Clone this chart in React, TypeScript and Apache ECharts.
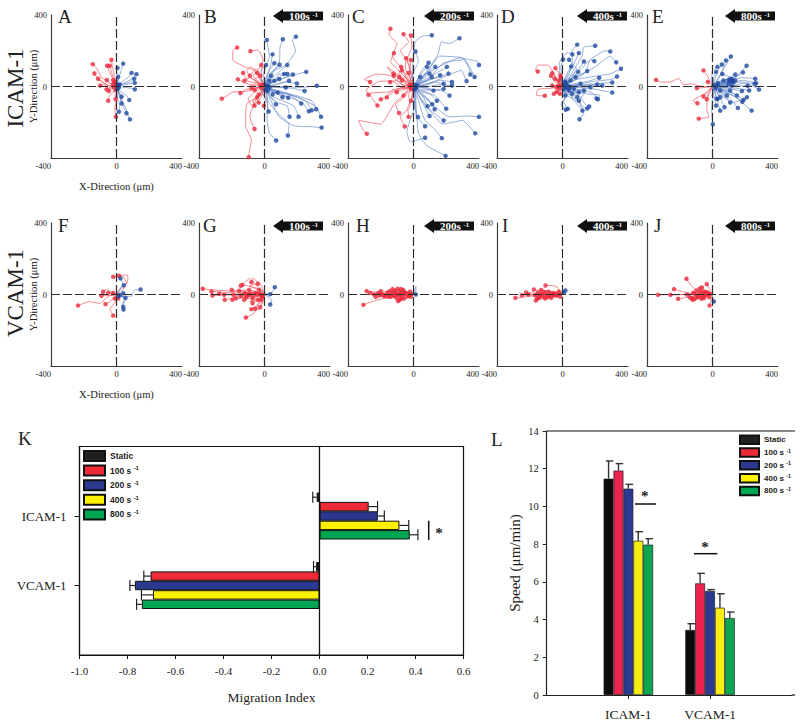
import React, { useEffect, useRef } from "react";
import * as echarts from "echarts";

// ---------- Cell tracks: each track is x,y,x,y,... (µm) from the origin, the last pair being the end point ----------
const redA = [
  [-40,20,-90,50,-120,100,-145,125],[-60,10,-110,40,-135,73],[-50,5,-85,25,-112,43],[-45,-10,-75,10,-100,5],[-30,10,-59,36],
  [-20,40,-45,85,-57,116],[-15,35,-30,80,-41,116],[-10,50,-25,110,-31,150],[-30,-5,-61,-16],[-25,-10,-47,-25],
  [-20,-30,-45,-55,-51,-80],[5,-60,-10,-120,-4,-170],[-10,-30,-6,-71],[-10,15,-20,36],
  [-8,12],[-15,-6],[-5,-18],[-20,14],[-12,25],
];
const blueA = [
  [10,40,0,80,6,104],[15,50,30,95,41,128],[40,30,70,50,92,76],[50,20,90,40,122,69],[45,15,85,25,108,43],[50,10,112,20],
  [50,-5,90,-10,112,-16],[30,-30,60,-50,78,-76],[15,-40,31,-95],[5,-60,20,-110,14,-141],[25,-60,60,-130,70,-160,82,-184],
  [25,-70,45,-120,61,-150],[15,-25,31,-57],[5,25,10,54],
  [8,10],[14,-6],[5,-14],[20,12],
];
const redB = [
  [-30,40,-60,90,-120,110,-195,150,-190,205,-167,218],[-20,60,-10,150,-40,205,-86,198],[-50,20,-100,30,-131,76],[-60,5,-120,20,-163,40],
  [-50,30,-90,50,-122,32],[-70,-10,-110,-15,-147,-36],[-60,-15,-130,-30,-190,-30,-235,-55,-261,-68],[-40,-5,-80,-10],
  [-10,-40,-40,-60,-70,-80,-61,-108],[-20,-30,10,-70,-4,-108],[-20,-60,-70,-110,-90,-170,-61,-238],
  [-30,-50,-110,-100,-115,-220,-80,-300,-92,-360,-96,-395],[-40,30,-70,60,-40,90,-20,120],[-70,40,-110,90,-80,110,-45,75],
  [-60,-30,-100,-70,-75,-110,-45,-60],[-30,50,-50,100,-90,60],[-25,-25,-50,-70,-35,-90],[-50,15,-85,5,-60,-20],
  [-30,10,-60,40,-25,60],[-15,-30,-35,-45],[-10,10],[-18,-8],[-25,6],
];
const blueB = [
  [-5,70,30,170,20,225,14,260],[30,60,90,130,95,220,112,264],[40,80,130,120,190,200,170,260,192,279],[10,50,35,110,49,180],
  [30,40,60,90,92,122],[50,50,100,90,139,120],[70,30,160,60,255,82],[50,30,110,45,173,67],[60,10,130,25,198,17],
  [80,-5,170,-10,245,-25],[100,0,220,-5,320,4],[50,-30,100,-40,145,-63],[60,-30,140,-40,190,-70,224,-95],
  [50,-30,150,-60,230,-90,271,-139],[60,-20,170,-50,250,-80,288,-133],[70,-20,190,-50,290,-80,316,-127],
  [80,-30,200,-60,310,-110,345,-169],[40,-80,90,-170,180,-220,290,-225,349,-230],[40,-50,110,-80,180,-110,208,-169],
  [30,-50,80,-90,140,-110,153,-169],[20,-80,80,-150,150,-210,143,-274],[20,-70,15,-180,30,-260,71,-302],
  [40,20,90,42],[30,15,60,32],[15,15,30,32],[40,-15,80,-34],[10,-12,20,-25],[60,-3,130,-6],[70,10,150,32],[60,30,120,70],
  [15,30,40,60],[25,-20,50,-44],[50,-25,110,-60],[30,-50,70,-100],[10,40,30,90,60,130],[-15,30,-30,80,10,120],
  [-20,-30,10,-70,25,-140],[60,30,90,70,140,70],[8,8],[14,-8],[22,4],[6,-18],[30,-4],
];
const redC = [
  [-30,40,-70,100,-130,170,-100,240,-150,290,-141,323],[-20,50,-30,130,-80,200,-30,250,-61,293],[-5,60,-40,150,-10,220,-16,285],
  [-40,40,-90,90,-140,140,-120,186],[-15,40,-50,100,-45,158],[-5,40,-20,90,-16,148],[-30,20,-50,60,-71,91],[-15,25,-31,76],
  [-40,10,-60,40,-86,53],[-70,10,-140,60,-220,70,-300,40,-265,25],[-60,-10,-130,30,-200,30,-290,-20,-275,-46],
  [-60,-5,-130,-20,-170,-60,-200,-72],[-70,-10,-150,-30,-270,-40,-220,-106],[-30,-30,-70,-70,-110,-100,-88,-148],
  [-30,-50,-20,-110,-80,-170,-53,-224],[-40,-30,-120,-100,-200,-210,-335,-190,-310,-240,-285,-264],[-5,-30,-14,-80],
  [-40,25,-90,50,-122,72],[-60,5,-100,35,-143,25],[-50,-10,-80,-5,-102,-32],[-30,-10,-45,-30,-61,-51],
  [-70,-20,-120,-30,-163,-61],[-35,5,-71,34],[-50,50,-100,40,-75,110],[-10,-60,-35,-120,-30,-170],[-60,40,-160,110,-120,60],
  [-10,8],[-18,-6],[-25,10],[-14,-14],
];
const blueC = [
  [-10,60,30,140,12,196],[-5,100,10,250,50,280,112,287],[60,60,150,180,170,250,220,240,281,270],[25,40,50,90,92,133],
  [50,30,130,70,204,110],[60,30,150,50,214,72],[70,60,160,170,300,160,340,100,347,67],[80,30,180,130,310,150,373,53],
  [90,10,200,60,290,90,324,30],[70,10,160,35,235,25],[70,-5,150,10,235,6],[60,10,120,25,184,15],[70,-5,130,-20,184,-13],
  [60,-20,140,-20,190,-30,220,-51],[50,-30,130,-50,170,-90,200,-124],[40,-20,100,-40,143,-80],[30,-30,70,-60,114,-99],
  [40,-30,90,-70,129,-127],[30,-30,60,-60,86,-110],[10,-40,5,-110,27,-171],[30,-50,60,-100,98,-165],[40,-60,100,-130,184,-190],
  [15,-60,10,-150,71,-222],[60,-90,180,-210,300,-190,377,-262],[30,-80,70,-190,130,-240,173,-289],
  [5,-110,-40,-250,-20,-310,71,-287],[15,-100,30,-260,80,-330,196,-388],[30,20,60,45,98,72],[40,30,80,80,133,110],
  [50,20,110,40,163,63],[30,15,70,30,112,53],[20,30,45,70,82,110],[15,15,41,53],[40,-5,80,-15,122,-23],
  [80,-70,220,-170,330,-165,400,-170],[60,60,280,160,390,140,400,120],[8,8],[15,-8],[24,5],[6,-16],
];
const redD = [
  [-30,20,-50,70,-90,120,-150,120,-165,90,-151,84],[-20,30,-40,50,-63,75],[-15,40,-25,80,-43,103],[-40,-5,-70,-10,-150,-15,-160,-50,-108,-52],
  [-20,-15,-30,-30,-53,-41],[-5,-20,-16,-41],[-20,15,-30,30,-47,43],[-10,15,-22,34],[-20,0,-37,-4],[-30,5,-63,6],[-5,30,-12,62],
  [-30,15,-50,30,-70,60],[-15,-25,-35,-30],[-25,25,-10,50],[-12,6],[-20,-10],[-28,3],
];
const blueD = [
  [20,60,60,130,60,200,90,234],[40,50,120,170,130,220,200,228],[20,50,60,110,100,187],[60,50,170,150,260,200,292,196],
  [-5,50,-10,110,4,151],[40,50,90,90,131,140],[60,50,140,80,170,150,194,142],[80,50,200,110,290,170,328,135],
  [90,40,220,60,290,70,357,99],[20,35,40,70,53,112],[30,20,70,50,96,82],[50,25,100,50,151,86],[70,15,160,30,224,49],
  [80,10,200,30,300,40,333,56],[80,5,190,15,304,22],[70,0,160,10,243,6],[60,5,130,2,212,11],[80,-5,200,-15,304,-34],
  [60,-15,150,-25,190,-40,208,-67],[50,-25,140,-40,230,-50,216,-71],[50,-30,100,-50,140,-100,163,-112],
  [30,-40,90,-70,120,-110,151,-123],[40,-40,80,-90,122,-135],[30,-50,100,-90,130,-150,104,-183],[10,-40,10,-90,33,-125],
  [30,-20,60,-40,90,-60],[20,-10,39,-22],[30,-5,69,-13],[25,15,49,34],[50,5,110,15],[60,-10,131,-22],[5,-25,18,-50],[40,25,80,52],
  [80,-2,171,-4],[25,-20,59,-41],[50,-15,100,-32],[-15,60,-20,130,30,190,60,180],[25,-50,-10,-100,20,-130],
  [40,30,85,100,40,150],[50,-30,140,-30,100,-80],[10,10],[18,-6],[28,6],[8,-16],[36,-8],[22,20],[45,-2],[15,28],
];
const redE = [
  [-60,0,-130,15,-180,10,-205,45,-260,25,-320,25,-345,37],[-15,30,-30,60,-55,90],[-15,10,-29,26],[-40,-5,-96,-9],[-25,-25,-55,-56],
  [-15,-30,-35,-71],[-40,-35,-120,-80,-92,-94],[-30,-50,-35,-130,-20,-170,-84,-180],
];
const blueE = [
  [30,40,70,100,112,168],[30,30,60,90,82,146],[15,40,30,85,57,123],[60,30,150,60,208,116],[60,20,130,45,186,79],[50,20,100,50,139,67],
  [5,30,10,60,22,82],[80,25,180,50,261,43],[80,15,190,35,267,19],[80,10,170,25,257,15],[70,5,150,2,214,4],[80,-5,200,20,284,-17],
  [70,-5,150,-10,224,-22],[60,-5,120,-15,180,-26],[50,15,90,25,124,34],[50,5,118,6],[60,-20,130,-40,190,-75],[50,-20,130,-50,182,-86],
  [60,-25,140,-60,239,-135],[40,-30,100,-60,155,-120],[40,-25,80,-60,108,-90],[25,-30,50,-70,73,-116],[15,-30,30,-80,47,-135],
  [5,-40,22,-107],[0,-60,-5,-140,2,-211],[40,-15,88,-50],[20,-25,47,-60],[60,-15,110,-30,149,-50],[30,15,67,34],[20,-10,47,-22],
  [50,-10,108,-22],[10,-30,27,-69],[60,15,139,34],[40,5,98,15],[-5,30,0,90,30,110],[15,20,110,50,60,70],[25,-20,-5,-50,30,-70],
  [30,10,150,0,110,40],[40,-40,130,-90,210,-60],[10,8],[18,-8],[28,4],[112,30],[128,24],[118,42],[100,36],[34,18],
];
const redF = [
  [-50,-10,-100,-50,-170,-40,-235,-62],[-20,-20,-40,-40,-67,-54],[-5,-40,-40,-80,-20,-118],[-30,-5,-92,-7],[-30,10,-60,30,-82,15],
  [20,30,60,60,40,100,-20,99],[-25,5,-51,9],[-10,5,-20,9],[-5,-10,-10,-22],[5,-10,10,-22],[40,30,70,80,65,110,15,105],
];
const blueF = [
  [20,30,40,60,24,90],[15,20,45,52],[40,-10,90,-10,110,25,147,28],[20,4,41,7],[30,-10,55,-19],[50,-20,40,-50,41,-69],[60,-25,35,-60,43,-84],[20,-4],[10,-10],
];
const redG = [
  [-100,10,-220,20,-310,25,-377,32],[-90,5,-210,10,-324,17],[-90,-5,-210,0,-318,-6],[-80,5,-190,0,-277,4],[-70,-10,-170,-15,-243,-30],
  [-80,-3,-247,-2],[-60,10,-140,15,-200,26],[-50,15,-110,25,-155,21],[-50,30,-110,50,-145,49],[-50,50,-90,90,-135,54],[-20,50,-70,90,-80,69],
  [-60,2,-190,-2],[-50,-10,-175,-21],[-40,-10,-80,-20,-124,-30],[-30,-5,-73,-21],[-25,5,-53,7],[-50,15,-94,26],[-15,10,-33,26],
  [-30,-40,-70,-110,-114,-129],[-20,-40,-60,-70,-80,-82],[-15,-50,-35,-85,-57,-80],[-5,-30,-27,-71],[-10,-15,-22,-30],[-50,0,-104,-2],
  [-70,-4,-145,-7],[-30,-25,-73,-49],[-6,-4,-12,-11],[-90,-10,-196,-30],[-20,25,-90,50,-40,60],[-30,-15,-90,-40,-40,-30],
  [-60,12,-120,8],[-40,8,-86,4],[-55,-8,-110,-14],[-18,-6],[-30,3],
];
const blueG = [[25,-10,50,15,63,41],[15,5,35,2],[15,-10,45,-30,35,-56]];
const redH = [
  [-100,-10,-220,-30,-306,-58],[-150,5,-286,19],[-120,3,-265,8],[-100,-5,-231,-13],[-90,10,-200,19],[-110,-3,-210,-4],[-80,-4,-169,-8],
  [-70,10,-145,19],[-70,-6,-139,-13],[-50,3,-108,6],[-40,15,-96,32],[-30,12,-63,25],[-40,-15,-94,-36],[-35,-12,-78,-26],[-25,-12,-57,-23],
  [-20,3,-47,6],[-10,8,-22,15],[-60,-4,-118,-8],[-90,0,-190,0],[-120,0,-241,0],[-40,0,-88,0],[-8,-6,-16,-13],[-80,5,-159,11],[-60,15,-128,30],
  [-180,-8],[-215,8],[-152,-12],[-125,12],[-105,-18],[-80,14],[-72,-10],[-55,12],[-36,-10],[-30,-2],[-85,-28],[-110,22],[-75,30],[-12,4],[-24,-6],
];
const blueH = [[8,25,15,46,14,0]];
const redI = [
  [-140,-5,-288,-19],[-120,-2,-249,-4],[-110,5,-222,11],[-90,15,-175,28],[-30,40,-60,50,-104,50],[-80,-15,-163,-34],[-70,-10,-147,-19],
  [-50,-10,-106,-22],[-35,-10,-69,-19],[-20,-2,-45,-4],[-60,3,-126,6],[-80,-2,-167,-4],[-40,8,-86,15],[-10,8,-24,15],[-30,3,-65,6],
  [-7,-6,-14,-13],[-100,0,-208,0],[-70,-5,-137,-13],[-60,15,-130,25],[-155,-22],[-150,10],[-118,-10],[-95,-16],[-78,-8],[-110,14],[-52,8],[-34,-6],[-20,6],[-140,-10],
];
const blueI = [[8,12,18,22],[4,6,8,11]];
const redJ = [
  [-160,0,-333,-2],[-130,0,-257,-2],[-110,5,-160,10,-235,30],[-100,-8,-210,-24],[-90,20,-130,50,-159,88],[-15,25,-35,58],[-40,15,-78,32],
  [-8,-30,-18,-62],[-80,0,-155,0],[-60,5,-118,9],[-55,-10,-108,-24],[-45,-8,-88,-15],[-35,-12,-67,-24],[-25,0,-47,-2],[-50,10,-98,22],
  [-70,-8,-139,-15],[-12,2,-27,4],[-30,8,-57,17],[-10,-6,-20,-15],[-60,-15,-120,-30],[-40,20,-65,40],[-92,-8],[-78,10],[-62,-14],[-44,6],[-110,4],[-128,-22],[-35,14],[-18,5],[-52,-20],
];
const blueJ = [[4,-20,8,-39]];

const panelLetters = ["A", "B", "C", "D", "E", "F", "G", "H", "I", "J"];
const redTracks = [redA, redB, redC, redD, redE, redF, redG, redH, redI, redJ];
const blueTracks = [blueA, blueB, blueC, blueD, blueE, blueF, blueG, blueH, blueI, blueJ];
const shearLabels = ["", "100s", "200s", "400s", "800s", "", "100s", "200s", "400s", "800s"];

// ---------- Panels K and L ----------
const groupNames = ["ICAM-1", "VCAM-1"];
const seriesNames = ["Static", "100 s-1", "200 s-1", "400 s-1", "800 s-1"];
const indexIcam = [-0.012, 0.205, 0.243, 0.333, 0.376];
const indexVcam = [-0.014, -0.704, -0.769, -0.694, -0.74];
const indexIcamTop = [-0.028, 0.242, 0.27, 0.372, 0.41];
const indexVcamTop = [-0.025, -0.732, -0.79, -0.742, -0.762];
const speedIcam = [11.47, 11.9, 10.94, 8.18, 7.97];
const speedVcam = [3.45, 5.92, 5.52, 4.63, 4.08];
const speedIcamTop = [12.41, 12.27, 11.17, 8.66, 8.29];
const speedVcamTop = [3.78, 6.45, 5.59, 5.37, 4.4];
const colorsK = ["#231f20", "#ee2a38", "#2b3990", "#fff200", "#00a651"];
const colorsL = ["#0c0a0b", "#ec2350", "#2b3990", "#f7ec13", "#0ca650"];

const SERIF = "'Liberation Serif', serif";
const SANS = "'Liberation Sans', sans-serif";

const cols = [
  { left: 51, arrow: 0 }, { left: 199, arrow: 273 }, { left: 348, arrow: 424 }, { left: 497, arrow: 577 }, { left: 647, arrow: 725 },
];
const letterX = [58, 204, 352, 501, 652, 58, 203, 356, 502, 654];

function trackLine(tracks: number[][]) {
  const out: any[] = [];
  tracks.forEach((t) => {
    out.push([0, 0]);
    for (let i = 0; i < t.length; i += 2) out.push([t[i], t[i + 1]]);
    out.push(["-", "-"]);
  });
  return out;
}
const trackEnds = (tracks: number[][]) => tracks.map((t) => [t[t.length - 2], t[t.length - 1]]);

function legendFormatter(name: string) {
  const m = name.match(/^(\d+ s)(-1)$/);
  return m ? `{a|${m[1]} }{b|${m[2]}}` : `{a|${name}}`;
}

function errorSeries(
  name: string, xAxisIndex: number, yAxisIndex: number, horizontal: boolean, barPx: number, capPx: number,
  rows: number[][], color: string,
) {
  return {
    type: "custom", name, xAxisIndex, yAxisIndex, silent: true, z: 3,
    encode: horizontal ? { x: [0, 1], y: 2 } : { x: 2, y: [0, 1] },
    data: rows,
    renderItem: (_: any, api: any) => {
      const from = api.value(0), to = api.value(1), cat = api.value(2), k = api.value(3);
      const off = (k - 2) * barPx;
      const a = horizontal ? api.coord([from, cat]) : api.coord([cat, from]);
      const b = horizontal ? api.coord([to, cat]) : api.coord([cat, to]);
      const st = { stroke: color, lineWidth: 1.1, fill: "none" };
      if (horizontal) {
        return {
          type: "group",
          children: [
            { type: "line", shape: { x1: a[0], y1: a[1] + off, x2: b[0], y2: b[1] + off }, style: st },
            { type: "line", shape: { x1: b[0], y1: b[1] + off - capPx / 2, x2: b[0], y2: b[1] + off + capPx / 2 }, style: st },
          ],
        };
      }
      return {
        type: "group",
        children: [
          { type: "line", shape: { x1: a[0] + off, y1: a[1], x2: b[0] + off, y2: b[1] }, style: { ...st, lineWidth: 1.4 } },
          { type: "line", shape: { x1: b[0] + off - capPx / 2 + 1, y1: b[1], x2: b[0] + off + capPx / 2 + 1, y2: b[1] }, style: { ...st, lineWidth: 1.4 } },
        ],
      };
    },
  };
}

function buildOption() {
  const grid: any[] = [], xAxis: any[] = [], yAxis: any[] = [], series: any[] = [], graphic: any[] = [];
  const axisLine = { show: true, onZero: false, lineStyle: { color: "#3c3c3c", width: 1.2 } };

  panelLetters.forEach((letter, i) => {
    const row = i < 5 ? 0 : 1;
    const col = cols[i % 5];
    const top = row === 0 ? 15 : 223;
    const width = 131, height = 143;
    const withNames = i % 5 === 0;
    grid.push({ left: col.left, top, width, height, containLabel: false });
    xAxis.push({
      gridIndex: i, type: "value", min: -400, max: 400, interval: 400,
      axisLine, axisTick: { show: false }, splitLine: { show: false },
      axisLabel: {
        fontFamily: SERIF, fontSize: 8.5, color: "#222", margin: 3, alignMinLabel: "right", alignMaxLabel: "right",
      },
      name: withNames ? "X-Direction (μm)" : "", nameLocation: "middle", nameGap: 23, nameMoveOverlap: false,
      nameTextStyle: { fontFamily: SERIF, fontSize: 10.6, color: "#222" },
    });
    yAxis.push({
      gridIndex: i, type: "value", min: -400, max: 400, interval: 400,
      axisLine, axisTick: { show: false }, splitLine: { show: false },
      axisLabel: {
        fontFamily: SERIF, fontSize: 8.5, color: "#222", margin: 4,
        formatter: (v: number) => (v === -400 ? "" : String(v)),
      },
      name: withNames ? "Y-Direction (μm)" : "", nameLocation: "middle", nameGap: 12, nameMoveOverlap: false,
      nameTextStyle: { fontFamily: SERIF, fontSize: 10.6, color: "#222" },
    });
    series.push({
      type: "line", name: letter + " red tracks", xAxisIndex: i, yAxisIndex: i, data: trackLine(redTracks[i]),
      symbol: "none", smooth: 0.15, connectNulls: false, silent: true,
      lineStyle: { color: "#ef5560", width: 0.7 },
      markLine: {
        silent: true, symbol: "none", label: { show: false }, z: 6,
        lineStyle: { color: "#2e2e2e", width: 1.2, type: [9, 3] },
        data: [{ xAxis: 0 }, { yAxis: 0 }],
      },
    });
    series.push({
      type: "line", name: letter + " blue tracks", xAxisIndex: i, yAxisIndex: i, data: trackLine(blueTracks[i]),
      symbol: "none", smooth: 0.15, connectNulls: false, silent: true,
      lineStyle: { color: "#6a8dcc", width: 0.7 },
    });
    series.push({
      type: "scatter", name: letter + " red ends", xAxisIndex: i, yAxisIndex: i, data: trackEnds(redTracks[i]),
      symbolSize: 4.5, itemStyle: { color: "#ea2a3c" }, silent: true, z: 4,
    });
    series.push({
      type: "scatter", name: letter + " blue ends", xAxisIndex: i, yAxisIndex: i, data: trackEnds(blueTracks[i]),
      symbolSize: 4.5, itemStyle: { color: "#1f4aa0" }, silent: true, z: 4,
    });

    graphic.push({
      type: "text", x: letterX[i], y: row === 0 ? 16 : 225,
      style: { text: letter, font: `19px ${SERIF}`, fill: "#222", verticalAlign: "middle" },
    });
    if (shearLabels[i]) {
      const ax = col.arrow;
      const ay = row === 0 ? 16 : 226;
      graphic.push({
        type: "polygon", silent: true,
        shape: { points: [[ax, ay], [ax + 10, ay - 7], [ax + 10, ay - 4.5], [ax + 50, ay - 4.5], [ax + 50, ay + 4.5], [ax + 10, ay + 4.5], [ax + 10, ay + 7]] },
        style: { fill: "#111" },
      });
      graphic.push({
        type: "text", x: ax + 16, y: ay, z: 10,
        style: { text: shearLabels[i], font: `bold 11px ${SERIF}`, fill: "#fff", verticalAlign: "middle" },
      });
      graphic.push({
        type: "text", x: ax + 39.5, y: ay - 2, z: 10,
        style: { text: "-1", font: `bold 6.5px ${SERIF}`, fill: "#fff", verticalAlign: "middle" },
      });
    }
  });

  // Panel K
  const K = 10, L = 11;
  grid.push({ left: 79.5, top: 446.5, width: 384, height: 208.5, show: true, borderColor: "#111", borderWidth: 1.2, backgroundColor: "transparent" });
  xAxis.push({
    gridIndex: K, type: "value", min: -1, max: 0.6, interval: 0.2,
    axisLine: { show: true, onZero: false, lineStyle: { color: "#111", width: 1.2 } },
    axisTick: { show: true, length: 4, lineStyle: { color: "#111" } }, splitLine: { show: false },
    axisLabel: { fontFamily: SERIF, fontSize: 11, color: "#222", margin: 10, formatter: (v: number) => v.toFixed(1) },
    name: "Migration Index", nameLocation: "middle", nameGap: 35, nameMoveOverlap: false,
    nameTextStyle: { fontFamily: SERIF, fontSize: 13.5, color: "#222" },
  });
  yAxis.push({
    gridIndex: K, type: "category", inverse: true, boundaryGap: false, data: ["", ...groupNames, ""],
    axisLine: { show: true, onZero: false, lineStyle: { color: "#111", width: 1.2 } },
    axisTick: { show: true, length: 5, interval: (_: number, v: string) => v !== "", lineStyle: { color: "#111" } },
    axisLabel: { fontFamily: SERIF, fontSize: 13, color: "#222", margin: 13, interval: 0 },
  });

  // Panel L
  grid.push({ left: 546.7, top: 431, width: 245, height: 264 });
  xAxis.push({
    gridIndex: L, type: "category", boundaryGap: false, data: ["", ...groupNames, ""],
    axisLine: { show: true, onZero: false, lineStyle: { color: "#222", width: 1.2 } },
    axisTick: { show: true, length: 4, interval: (_: number, v: string) => v !== "", lineStyle: { color: "#222" } },
    axisLabel: { fontFamily: SERIF, fontSize: 13.5, color: "#222", margin: 12, interval: 0 },
  });
  yAxis.push({
    gridIndex: L, type: "value", min: 0, max: 14, interval: 2,
    axisLine: { show: true, onZero: false, lineStyle: { color: "#222", width: 1.2 } },
    axisTick: { show: true, length: 4, lineStyle: { color: "#222" } }, splitLine: { show: false },
    axisLabel: { fontFamily: SERIF, fontSize: 10.5, color: "#222", margin: 8 },
    name: "Speed (μm/min)", nameLocation: "middle", nameGap: 24, nameMoveOverlap: false,
    nameTextStyle: { fontFamily: SERIF, fontSize: 15, color: "#222" },
  });

  const kErr: number[][] = [], lErr: number[][] = [];
  seriesNames.forEach((name, k) => {
    series.push({
      type: "bar", name, xAxisIndex: K, yAxisIndex: K, barWidth: 9.4, barGap: 0,
      data: [null, indexIcam[k], indexVcam[k], null].map((v, c) => (v === null ? ["-", c] : [v, c])),
      itemStyle: { color: colorsK[k], borderColor: "#111", borderWidth: 1 },
      silent: true,
      ...(k === 0 ? {
        markLine: {
          silent: true, symbol: "none", label: { show: false }, z: 6,
          lineStyle: { color: "#111", width: 1.3, type: "solid" }, data: [{ xAxis: 0 }],
        },
      } : {}),
    });
    kErr.push([indexIcam[k], indexIcamTop[k], 1, k], [indexVcam[k], indexVcamTop[k], 2, k]);
    series.push({
      type: "bar", name, xAxisIndex: L, yAxisIndex: L, barWidth: 9.9, barGap: 0,
      data: [null, speedIcam[k], speedVcam[k], null].map((v, c) => (v === null ? [c, "-"] : [c, v])),
      itemStyle: { color: colorsL[k], borderColor: "#222", borderWidth: 0.7 },
      silent: true,
    });
    lErr.push([speedIcam[k], speedIcamTop[k], 1, k], [speedVcam[k], speedVcamTop[k], 2, k]);
  });
  series.push(errorSeries("K error", K, K, true, 9.4, 11, kErr, "#111"));
  series.push(errorSeries("L error", L, L, false, 9.9, 7.5, lErr, "#333"));

  const legendRich = (size: number) => ({
    a: { fontFamily: SANS, fontWeight: "bold" as const, fontSize: size, color: "#222" },
    b: { fontFamily: SANS, fontWeight: "bold" as const, fontSize: size - 2.5, color: "#222", verticalAlign: "top" as const, lineHeight: size + 2 },
  });
  const legends = [
    {
      left: 83, top: 450, padding: 0, orient: "vertical", itemWidth: 21, itemHeight: 10, itemGap: 2.6, data: seriesNames,
      formatter: legendFormatter, textStyle: { rich: legendRich(8.5) }, icon: "rect", selectedMode: false,
    },
    {
      left: 739, top: 434.5, padding: 0, orient: "vertical", itemWidth: 19, itemHeight: 8.5, itemGap: 2.3, data: seriesNames,
      formatter: legendFormatter, textStyle: { rich: legendRich(8) }, icon: "rect", selectedMode: false,
    },
  ];

  const sigLine = (x1: number, y1: number, x2: number, y2: number, lineWidth = 1.5) => ({
    type: "line", silent: true, shape: { x1, y1, x2, y2 }, style: { stroke: "#111", lineWidth },
  });
  const txt = (text: string, x: number, y: number, font: string, rotation = 0, align = "center") => ({
    type: "text", x, y, rotation, silent: true,
    style: { text, font, fill: "#222", align, verticalAlign: "middle" },
  });
  graphic.push(
    txt("ICAM-1", 15, 88, `23px ${SERIF}`, Math.PI / 2),
    txt("VCAM-1", 15, 293, `23px ${SERIF}`, Math.PI / 2),
    txt("K", 18, 438, `19px ${SERIF}`, 0, "left"),
    txt("L", 491, 439, `19px ${SERIF}`, 0, "left"),
    sigLine(428.7, 520.7, 428.7, 540),
    txt("*", 439, 533, `bold 15px ${SERIF}`),
    sigLine(635, 504, 656, 504),
    txt("*", 644.7, 496, `bold 15px ${SERIF}`),
    sigLine(694, 553.7, 717.3, 553.7),
    txt("*", 705, 547, `bold 15px ${SERIF}`),
    sigLine(546.7, 431, 795, 431, 1.2),
    sigLine(791.7, 695, 795, 695, 1.2),
  );

  return { animation: false, backgroundColor: "#fff", grid, xAxis, yAxis, series, legend: legends, graphic: { elements: graphic } };
}

export default function App() {
  const ref = useRef<HTMLDivElement>(null);
  useEffect(() => {
    const chart = echarts.init(ref.current!, undefined, { renderer: "svg" });
    chart.setOption(buildOption() as any);
    return () => chart.dispose();
  }, []);
  return <div ref={ref} style={{ position: "fixed", left: 0, top: 0, width: 800, height: 728 }} />;
}
